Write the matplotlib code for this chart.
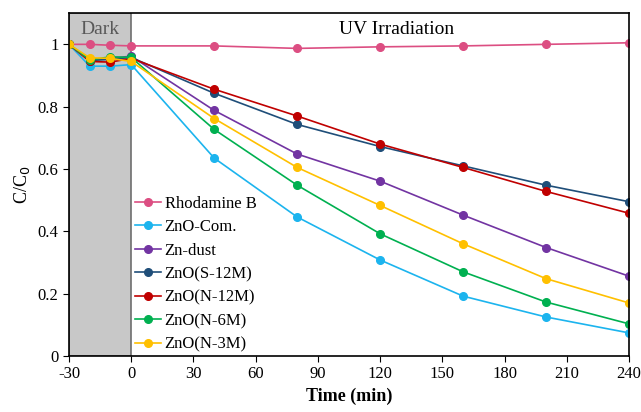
import matplotlib
matplotlib.use('Agg')
import matplotlib.pyplot as plt

plt.rcParams['font.family'] = ['Liberation Serif', 'DejaVu Serif']
plt.rcParams['axes.unicode_minus'] = False

time = [-30, -20, -10, 0, 40, 80, 120, 160, 200, 240]

names = ['Rhodamine B', 'ZnO-Com.', 'Zn-dust', 'ZnO(S-12M)', 'ZnO(N-12M)', 'ZnO(N-6M)', 'ZnO(N-3M)']
rhodamine = [1.0, 1.0, 0.997, 0.995, 0.995, 0.987, 0.992, 0.995, 1.0, 1.005]
zno_com = [1.0, 0.93, 0.93, 0.935, 0.635, 0.446, 0.308, 0.192, 0.125, 0.074]
zn_dust = [1.0, 0.95, 0.955, 0.962, 0.788, 0.648, 0.561, 0.452, 0.348, 0.256]
s_12m = [1.0, 0.948, 0.952, 0.958, 0.843, 0.743, 0.672, 0.61, 0.548, 0.495]
n_12m = [1.0, 0.945, 0.943, 0.955, 0.856, 0.77, 0.68, 0.605, 0.528, 0.458]
n_6m = [1.0, 0.95, 0.96, 0.958, 0.727, 0.548, 0.392, 0.27, 0.173, 0.103]
n_3m = [1.0, 0.957, 0.955, 0.945, 0.762, 0.605, 0.483, 0.36, 0.248, 0.17]
series = [rhodamine, zno_com, zn_dust, s_12m, n_12m, n_6m, n_3m]
colors = ['#DC4E82', '#1CB4EE', '#7234A2', '#1F4E79', '#C00000', '#00B050', '#FFC000']

fig = plt.figure(figsize=(6.41, 4.12), dpi=100)
ax = fig.add_axes([0.1076, 0.136, 0.8738, 0.832])

ax.axvspan(-30, 0, facecolor='#C8C8C8', edgecolor='#6E6E6E', linewidth=1.2, zorder=0)

for name, vals, c in zip(names, series, colors):
    ax.plot(time, vals, '-o', color=c, label=name, markersize=5.5, linewidth=1.2)

ax.set_xlim(-30, 240)
ax.set_ylim(0, 1.1)
ax.set_xticks([-30, 0, 30, 60, 90, 120, 150, 180, 210, 240])
ax.set_yticks([0, 0.2, 0.4, 0.6, 0.8, 1.0])
ax.set_yticklabels(['0', '0.2', '0.4', '0.6', '0.8', '1'])
ax.tick_params(labelsize=12, direction='out', length=4)
ax.set_xlabel('Time (min)', fontsize=13, fontweight='bold')
ax.set_ylabel('C/C$_0$', fontsize=13)

ax.text(-15, 1.047, 'Dark', ha='center', va='center', fontsize=14, color='#595959')
ax.text(128, 1.047, 'UV Irradiation', ha='center', va='center', fontsize=14)

for s in ax.spines.values():
    s.set_linewidth(1.2)

ax.legend(loc='upper left', bbox_to_anchor=(0.117, 0.468), frameon=False, fontsize=12,
          handlelength=1.6, handletextpad=0.2, labelspacing=0.45, borderpad=0, borderaxespad=0)

fig.savefig('out.png', dpi=100)
